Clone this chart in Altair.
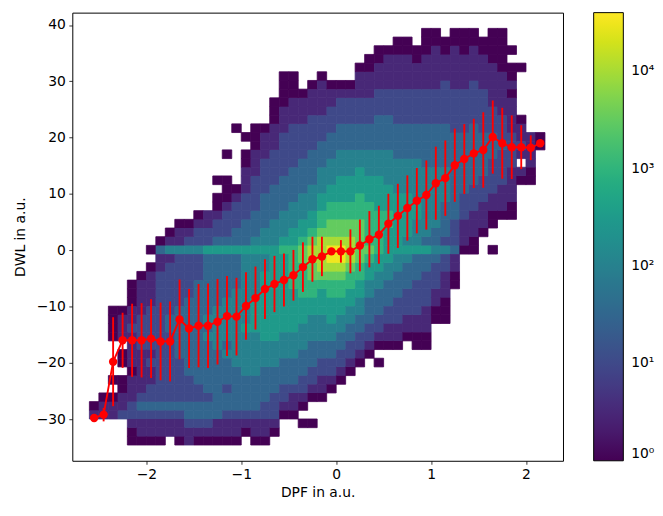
import altair as alt
import pandas as pd

# ---- 2D histogram ----
# x bins: 0.1 wide starting at -2.6 ; y bins: 1.5417 tall starting at -34.6
X_START = -2.6
X_STEP = 0.1
Y_START = -34.6
Y_STEP = 1.5417

# one string per x-bin column, characters from bottom row to top row
# '.' = empty bin, digit d = count of about 10**(d/2)
COLS = [
    "...10... ........ ........ ........ ........ ........",
    "...110.. ........ ........ ........ ........ ........",
    "...110.0 ....0000 ........ ........ ........ ........",
    "...21100 .00.1110 ........ ........ ........ ........",
    "00122111 01111211 000..... ........ ........ ........",
    "01123211 11122221 1110.... ........ ........ ........",
    "01123221 12122222 11110.0. ........ ........ ........",
    "01123222 22222222 22221130 ........ ........ ........",
    ".1123222 22222332 22222141 0....... ........ ........",
    "01123222 22333333 22222241 10...... ........ ........",
    "11233222 33333333 32222242 10...... ........ ........",
    "01233223 33333333 33322242 210..... ........ ........",
    "01233233 33334343 33333352 211..... ........ ........",
    "01133333 33344444 33333353 22100.0. ........ ........",
    "01123323 33434444 43333353 2221000. .0...... ........",
    "01123333 34444444 44333353 322210.. ....0... ........",
    ".0123333 44444544 44444453 33222111 00.0.... ........",
    "01123333 44444555 54444454 33322221 11000... ........",
    "01122333 34445555 55554454 43333222 21110... ........",
    ".0122233 34445555 55555554 44333322 22111000 ........",
    "...01223 33444555 55555565 44433332 22221110 000.....",
    "...01123 33444555 55666665 54443333 22222111 000.....",
    "..0.0122 33344455 56666776 55444333 32222111 0.......",
    "..0..012 23334445 56677887 65544433 33222211 10......",
    ".....011 22334445 55678888 76655444 33322211 110.....",
    "......01 22334455 56678998 77665544 43332221 10......",
    ".......0 12233445 56678998 77665554 44333222 10......",
    "........ 01223344 55667888 77665554 44333222 10......",
    "........ .0122334 45566777 77666555 44333222 1110....",
    "........ ..012233 34455676 66665554 44333222 11100...",
    "........ .0.01223 33445566 66655554 44333322 211100..",
    "........ ...01122 33344555 56655544 44333322 211110..",
    "........ ...01122 23334455 55555444 43333222 2111100.",
    "........ ....0112 22333454 55555444 43333222 2111100.",
    "........ ...00112 22233354 44554444 43333222 211100..",
    "........ ...00111 22223353 44444444 33333222 21111000",
    "........ ......00 11222343 34444444 33333222 21111100",
    "........ ......00 01112242 33334444 33333222 2211100.",
    "........ ........ ..001132 22333333 33332222 21111100",
    "........ ........ ......01 11222333 33332222 21111000",
    "........ ........ ......00 11122233 33333222 22111100",
    "........ ........ ........ 01112223 33332222 2111100.",
    "........ ........ ......0. .0011222 23332221 11110000",
    "........ ........ ........ ..011122 22322211 11100000",
    "........ ........ ........ ..001111 22221111 0100.0..",
    "........ ........ ........ ......01 .12110.. ...0....",
    "........ ........ ........ ......00 1111.... ........",
    "........ ........ ........ ........ ..00.... ........",
]

# ---- binned means with standard deviation (red error bars) ----
XC = [-2.55, -2.45, -2.35, -2.25, -2.15, -2.05, -1.95, -1.85, -1.75, -1.65,
      -1.55, -1.45, -1.35, -1.25, -1.15, -1.05, -0.95, -0.85, -0.75, -0.65,
      -0.55, -0.45, -0.35, -0.25, -0.15, -0.05, 0.05, 0.15, 0.25, 0.35,
      0.45, 0.55, 0.65, 0.75, 0.85, 0.95, 1.05, 1.15, 1.25, 1.35,
      1.45, 1.55, 1.65, 1.75, 1.85, 1.95, 2.05, 2.15]
MEAN = [-29.8, -29.2, -19.8, -16.0, -16.0, -16.0, -15.7, -16.2, -16.2, -12.3,
        -13.9, -13.4, -13.4, -12.7, -11.7, -11.8, -9.9, -8.5, -6.9, -6.0,
        -5.3, -4.45, -3.0, -1.6, -1.1, -0.2, -0.2, -0.2, 0.85, 1.95,
        2.75, 4.7, 6.1, 7.5, 8.8, 9.8, 11.9, 12.8, 15.1, 16.2,
        17.2, 17.8, 20.1, 19.0, 18.3, 18.3, 18.2, 19.0]
STD = [0.6, 1.2, 7.9, 4.9, 6.5, 6.6, 7.0, 6.9, 7.1, 7.1,
       7.0, 7.4, 7.5, 7.6, 7.1, 6.9, 6.0, 5.6, 5.3, 5.0,
       4.7, 4.5, 4.4, 4.0, 3.5, 0.5, 2.0, 3.9, 4.6, 5.0,
       5.15, 5.33, 5.7, 5.8, 5.8, 6.15, 6.5, 6.7, 6.5, 6.2,
       6.15, 6.7, 6.5, 6.3, 5.65, 3.9, 2.2, 0.3]

cells = []
for c, col in enumerate(COLS):
    s = col.replace(" ", "")
    assert len(s) == 48, (c, len(s))
    for r, ch in enumerate(s):
        if ch != ".":
            cnt = round(10 ** (int(ch) / 2.0), 2)
            cells.append({
                "x0": round(X_START + c * X_STEP, 4),
                "x1": round(X_START + (c + 1) * X_STEP, 4),
                "y0": round(Y_START + r * Y_STEP, 4),
                "y1": round(Y_START + (r + 1) * Y_STEP, 4),
                "count": cnt,
            })
hist = pd.DataFrame(cells)

err = pd.DataFrame({"x": XC, "mean": MEAN, "std": STD})
err["lo"] = err["mean"] - err["std"]
err["hi"] = err["mean"] + err["std"]

FONT = "DejaVu Sans"
xscale = alt.Scale(domain=[-2.78, 2.39], nice=False, zero=False)
yscale = alt.Scale(domain=[-37.4, 42.2], nice=False, zero=False)
cscale = alt.Scale(type="log", domain=[1, 40000], scheme="viridis")

# outline layer underneath the cells: hides anti-aliasing seams between cells
edges = alt.Chart(hist).mark_rect(filled=False, strokeWidth=0.8).encode(
    x=alt.X("x0:Q", scale=xscale,
            axis=alt.Axis(title="DPF in a.u.", values=[-2, -1, 0, 1, 2],
                          format="d", titlePadding=4)),
    x2="x1:Q",
    y=alt.Y("y0:Q", scale=yscale,
            axis=alt.Axis(title="DWL in a.u.",
                          values=[-30, -20, -10, 0, 10, 20, 30, 40],
                          format="d", titlePadding=9)),
    y2="y1:Q",
    color=alt.Color("count:Q", scale=cscale, legend=None),
)

heat = alt.Chart(hist).mark_rect().encode(
    x=alt.X("x0:Q", scale=xscale),
    x2="x1:Q",
    y=alt.Y("y0:Q", scale=yscale),
    y2="y1:Q",
    color=alt.Color("count:Q", scale=cscale, legend=alt.Legend(
        type="gradient", title=None, orient="right", direction="vertical",
        gradientLength=453, gradientThickness=30,
        values=[1, 10, 100, 1000, 10000],
        labelExpr="'10' + ['⁰','¹','²','³','⁴'][round(log(datum.value)/LN10)]",
        labelFontSize=14, labelFont=FONT, labelColor="black",
        labelOverlap=False, labelOffset=8, offset=31, padding=0,
        gradientStrokeColor="black", gradientStrokeWidth=1)),
)

bars = alt.Chart(err).mark_rule(color="red", strokeWidth=1.9).encode(
    x=alt.X("x:Q", scale=xscale),
    y=alt.Y("lo:Q", scale=yscale),
    y2="hi:Q",
)
line = alt.Chart(err).mark_line(color="red", strokeWidth=1.9).encode(
    x=alt.X("x:Q", scale=xscale),
    y=alt.Y("mean:Q", scale=yscale),
)
pts = alt.Chart(err).mark_circle(color="red", size=72, opacity=1).encode(
    x=alt.X("x:Q", scale=xscale),
    y=alt.Y("mean:Q", scale=yscale),
)

chart = alt.layer(edges, heat, bars, line, pts).resolve_scale(
    color="independent"
).properties(
    width=496, height=453,
    padding={"left": 5, "top": 2, "right": 0, "bottom": 2},
    background="white",
).configure_view(
    stroke="black", strokeWidth=1
).configure_axis(
    labelFont=FONT, labelFontSize=14, labelColor="black",
    titleFont=FONT, titleFontSize=14, titleFontWeight="normal",
    titleColor="black", tickColor="black", tickSize=3.5, tickWidth=0.8,
    labelPadding=3.5, domain=False, grid=False,
)

chart.save("out.html", embed_options={"renderer": "svg", "actions": False})
